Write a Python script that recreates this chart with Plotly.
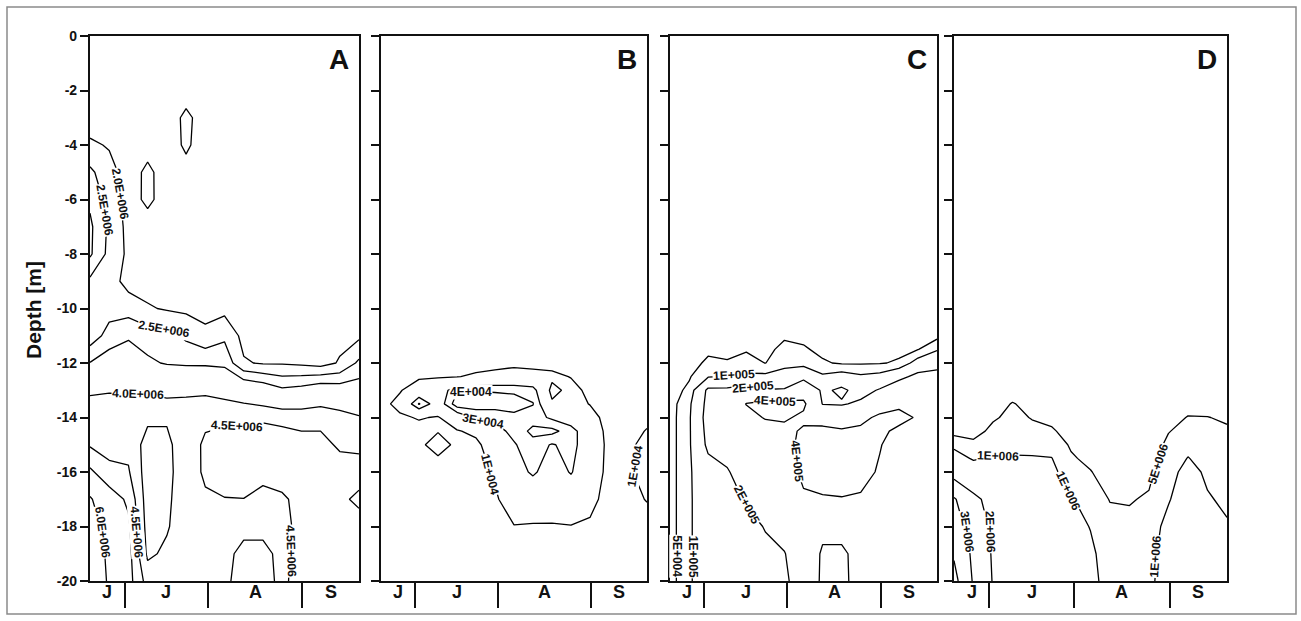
import plotly.graph_objects as go

W, H = 1301, 621

# ---------------- data ----------------
sample_day = [0, 7, 14, 21, 28, 35, 42, 49, 56, 63, 70, 77, 84, 91, 98]
months = ["J", "J", "A", "S"]
month_edges = [0, 12.6, 43.1, 77.4, 98]
depth_ticks = [0, -2, -4, -6, -8, -10, -12, -14, -16, -18, -20]
depth_tick_text = ["0", "-2", "-4", "-6", "-8", "-10", "-12", "-14", "-16", "-18", "-20"]

# Panel A  (x 1E+006)
depth_A = [0, -1, -2, -3, -4, -5, -6, -7, -8, -9, -10, -11, -12, -13, -14, -15, -16, -17, -18, -19, -20]
profiles_A = [
    [1.7, 1.75, 1.8, 1.7, 2.1, 2.6, 2.9, 3.1, 3.08, 2.4, 2.3, 2.2, 3.02, 3.95, 4.2, 4.45, 5.1, 6.1, 6.3, 6.5, 6.6],
    [1.6, 1.65, 1.7, 1.75, 1.95, 2.2, 2.3, 2.4, 2.35, 2.25, 2.3, 2.7, 3.3, 3.97, 4.25, 4.3, 4.65, 5.3, 5.75, 5.85, 5.9],
    [1.5, 1.55, 1.6, 1.65, 1.7, 1.75, 1.8, 1.85, 1.9, 1.8, 2.3, 2.9, 3.5, 3.97, 4.2, 4.35, 4.55, 4.9, 5.1, 5.2, 5.2],
    [1.5, 1.55, 1.6, 1.7, 1.8, 2.12, 2.1, 1.8, 1.75, 1.8, 2.05, 2.75, 3.1, 3.98, 4.1, 3.8, 3.75, 3.75, 3.8, 3.9, 4.3],
    [1.5, 1.55, 1.6, 1.65, 1.7, 1.75, 1.8, 1.8, 1.8, 1.8, 1.95, 2.7, 2.95, 3.98, 4.05, 3.9, 3.85, 3.9, 3.95, 4.1, 4.3],
    [1.5, 1.55, 1.7, 2.15, 2.1, 1.8, 1.75, 1.75, 1.75, 1.8, 1.9, 2.4, 2.9, 3.95, 4.15, 4.25, 4.3, 4.3, 4.3, 4.3, 4.35],
    [1.5, 1.55, 1.6, 1.7, 1.7, 1.7, 1.7, 1.75, 1.75, 1.8, 1.8, 2.15, 2.9, 3.9, 4.4, 4.58, 4.56, 4.45, 4.4, 4.35, 4.35],
    [1.5, 1.55, 1.6, 1.65, 1.7, 1.7, 1.7, 1.7, 1.75, 1.75, 1.85, 2.4, 2.85, 3.8, 4.4, 4.7, 4.75, 4.48, 4.4, 4.4, 4.4],
    [1.5, 1.55, 1.6, 1.6, 1.65, 1.65, 1.7, 1.7, 1.7, 1.75, 1.8, 1.85, 2.05, 3.6, 4.45, 4.7, 4.8, 4.49, 4.4, 4.6, 4.7],
    [1.5, 1.55, 1.6, 1.6, 1.65, 1.65, 1.7, 1.7, 1.7, 1.75, 1.8, 1.85, 1.95, 3.4, 4.45, 4.7, 4.6, 4.4, 4.4, 4.6, 4.65],
    [1.5, 1.55, 1.6, 1.6, 1.6, 1.65, 1.65, 1.7, 1.7, 1.75, 1.8, 1.85, 1.95, 3.1, 4.4, 4.7, 4.65, 4.45, 4.4, 4.4, 4.4],
    [1.5, 1.55, 1.6, 1.6, 1.6, 1.65, 1.65, 1.7, 1.7, 1.75, 1.8, 1.85, 1.9, 3.2, 4.35, 4.65, 4.7, 4.6, 4.6, 4.65, 4.7],
    [1.5, 1.55, 1.6, 1.6, 1.6, 1.6, 1.65, 1.65, 1.7, 1.7, 1.75, 1.8, 1.8, 3.4, 4.4, 4.6, 4.65, 4.6, 4.6, 4.6, 4.65],
    [1.5, 1.55, 1.6, 1.6, 1.6, 1.6, 1.65, 1.65, 1.7, 1.7, 1.75, 1.85, 2.05, 3.3, 4.25, 4.45, 4.65, 4.55, 4.6, 4.6, 4.65],
    [1.5, 1.55, 1.55, 1.6, 1.6, 1.6, 1.65, 1.65, 1.7, 1.7, 1.75, 1.9, 2.6, 3.3, 4.05, 4.45, 4.6, 4.45, 4.6, 4.65, 4.7],
]
levels_A = [2.0, 2.5, 3.0, 4.0, 4.5, 5.0, 6.0]

# Panel B  (x 1E+004)
depth_B = [0, -5, -10, -11, -12, -12.5, -13, -13.5, -14, -14.5, -15, -16, -17, -18, -19, -20]
profiles_B = [
    [0.2, 0.2, 0.2, 0.25, 0.3, 0.4, 0.5, 0.6, 0.5, 0.4, 0.3, 0.3, 0.3, 0.3, 0.3, 0.3],
    [0.2, 0.2, 0.25, 0.3, 0.4, 0.6, 0.9, 1.4, 0.8, 0.5, 0.4, 0.3, 0.3, 0.3, 0.3, 0.3],
    [0.2, 0.2, 0.25, 0.3, 0.5, 0.8, 1.8, 4.1, 1.1, 0.6, 0.8, 0.4, 0.3, 0.3, 0.3, 0.3],
    [0.2, 0.2, 0.25, 0.3, 0.5, 0.9, 2.0, 2.2, 0.9, 0.95, 1.4, 0.4, 0.3, 0.3, 0.3, 0.3],
    [0.2, 0.2, 0.25, 0.3, 0.5, 0.95, 3.9, 4.6, 2.0, 0.9, 0.8, 0.4, 0.3, 0.3, 0.3, 0.3],
    [0.2, 0.2, 0.25, 0.3, 0.5, 1.2, 3.95, 4.6, 3.2, 1.3, 0.7, 0.4, 0.3, 0.3, 0.3, 0.3],
    [0.2, 0.2, 0.25, 0.35, 0.6, 1.4, 3.9, 4.5, 3.3, 2.6, 1.8, 1.2, 0.8, 0.4, 0.3, 0.3],
    [0.2, 0.2, 0.3, 0.4, 0.7, 1.6, 3.8, 4.5, 3.7, 3.3, 2.9, 2.4, 1.8, 0.95, 0.4, 0.3],
    [0.2, 0.2, 0.3, 0.4, 0.6, 1.5, 3.5, 4.05, 3.5, 4.3, 3.6, 3.2, 1.8, 0.9, 0.4, 0.3],
    [0.2, 0.2, 0.3, 0.4, 0.6, 1.3, 0.6, 1.2, 2.8, 4.3, 2.9, 2.3, 1.7, 0.9, 0.4, 0.3],
    [0.2, 0.2, 0.3, 0.35, 0.5, 0.95, 1.4, 1.5, 2.2, 3.5, 3.4, 3.1, 1.9, 0.95, 0.4, 0.3],
    [0.2, 0.2, 0.2, 0.25, 0.3, 0.5, 0.7, 0.95, 1.5, 2.0, 2.2, 1.9, 1.4, 0.8, 0.4, 0.3],
    [0.2, 0.2, 0.2, 0.2, 0.25, 0.3, 0.35, 0.4, 0.5, 0.55, 0.6, 0.6, 0.5, 0.4, 0.3, 0.3],
    [0.2, 0.2, 0.2, 0.2, 0.25, 0.3, 0.35, 0.45, 0.6, 0.7, 0.8, 0.85, 0.7, 0.5, 0.35, 0.3],
    [0.2, 0.2, 0.2, 0.2, 0.25, 0.3, 0.4, 0.6, 0.8, 1.05, 1.3, 1.4, 1.05, 0.6, 0.4, 0.3],
]
levels_B = [1, 3, 4]

# Panel C  (x 1E+005)
depth_C = [0, -5, -10, -11, -11.5, -12, -12.5, -13, -13.5, -14, -14.5, -15, -16, -17, -18, -19, -20]
profiles_C = [
    [0.1, 0.1, 0.15, 0.2, 0.2, 0.25, 0.3, 0.3, 0.3, 0.3, 0.3, 0.3, 0.3, 0.3, 0.3, 0.3, 0.3],
    [0.1, 0.1, 0.15, 0.2, 0.25, 0.3, 0.45, 0.6, 0.85, 0.9, 0.9, 0.9, 0.9, 0.9, 0.9, 0.9, 0.9],
    [0.1, 0.15, 0.2, 0.3, 0.4, 0.6, 0.95, 2.2, 2.3, 2.4, 2.3, 2.2, 1.6, 1.5, 1.5, 1.5, 1.5],
    [0.1, 0.15, 0.2, 0.3, 0.35, 0.55, 1.05, 2.2, 2.6, 2.8, 2.7, 2.5, 1.9, 1.6, 1.5, 1.5, 1.5],
    [0.1, 0.15, 0.25, 0.35, 0.45, 0.7, 1.1, 2.5, 4.05, 3.5, 3.2, 3.0, 2.6, 2.1, 1.7, 1.6, 1.6],
    [0.1, 0.15, 0.25, 0.35, 0.4, 0.49, 1.15, 2.05, 4.5, 4.1, 3.4, 3.1, 2.8, 2.4, 2.05, 1.8, 1.7],
    [0.1, 0.15, 0.3, 0.45, 0.6, 0.8, 1.3, 2.1, 4.6, 4.2, 3.6, 3.4, 3.3, 3.0, 2.5, 1.95, 1.8],
    [0.1, 0.15, 0.3, 0.4, 0.55, 0.8, 1.6, 3.2, 4.3, 3.7, 4.2, 4.5, 4.3, 3.8, 3.0, 2.8, 2.6],
    [0.1, 0.15, 0.2, 0.3, 0.4, 0.55, 1.1, 1.8, 1.95, 3.5, 4.3, 4.6, 4.5, 3.9, 3.6, 4.2, 4.3],
    [0.1, 0.15, 0.2, 0.3, 0.4, 0.45, 1.3, 2.2, 1.9, 3.0, 4.2, 4.4, 4.5, 3.95, 3.6, 4.2, 4.3],
    [0.1, 0.15, 0.2, 0.3, 0.4, 0.45, 1.1, 1.6, 2.2, 3.6, 4.3, 4.4, 4.3, 3.9, 3.6, 3.6, 3.5],
    [0.1, 0.15, 0.2, 0.3, 0.4, 0.47, 1.2, 2.1, 3.2, 4.3, 4.2, 4.05, 3.9, 3.6, 3.4, 3.3, 3.3],
    [0.1, 0.15, 0.2, 0.3, 0.4, 0.55, 1.7, 2.8, 3.8, 4.3, 3.8, 3.6, 3.4, 3.2, 3.1, 3.0, 3.0],
    [0.1, 0.15, 0.25, 0.35, 0.48, 1.3, 2.3, 3.0, 3.5, 3.9, 3.7, 3.5, 3.3, 3.1, 3.0, 3.0, 3.0],
    [0.1, 0.15, 0.3, 0.35, 0.95, 1.5, 2.5, 3.0, 3.3, 3.5, 3.4, 3.3, 3.1, 3.0, 2.9, 2.9, 2.9],
]
levels_C = [0.5, 1, 2, 4]

# Panel D  (x 1E+006)
depth_D = [0, -5, -10, -12, -13, -13.5, -14, -14.5, -15, -15.5, -16, -17, -18, -19, -20]
profiles_D = [
    [0.1, 0.1, 0.15, 0.2, 0.25, 0.25, 0.3, 0.3, 0.9, 1.2, 1.6, 3.1, 3.4, 3.9, 4.3],
    [0.1, 0.1, 0.15, 0.2, 0.25, 0.28, 0.3, 0.35, 0.6, 0.95, 1.3, 2.2, 2.6, 2.8, 2.9],
    [0.1, 0.1, 0.15, 0.2, 0.3, 0.35, 0.45, 0.6, 0.8, 1.05, 1.3, 1.7, 1.8, 1.9, 1.95],
    [0.1, 0.1, 0.15, 0.2, 0.35, 0.52, 0.6, 0.7, 0.85, 1.05, 1.2, 1.5, 1.6, 1.7, 1.75],
    [0.1, 0.1, 0.15, 0.2, 0.3, 0.4, 0.48, 0.6, 0.8, 1.05, 1.2, 1.4, 1.5, 1.55, 1.6],
    [0.1, 0.1, 0.15, 0.2, 0.25, 0.3, 0.4, 0.55, 0.75, 1.02, 1.15, 1.3, 1.35, 1.4, 1.45],
    [0.1, 0.1, 0.15, 0.2, 0.2, 0.25, 0.3, 0.35, 0.45, 0.55, 0.7, 1.05, 1.2, 1.25, 1.3],
    [0.1, 0.1, 0.1, 0.15, 0.15, 0.2, 0.2, 0.25, 0.3, 0.4, 0.52, 0.75, 0.98, 1.1, 1.15],
    [0.1, 0.1, 0.1, 0.1, 0.15, 0.15, 0.15, 0.2, 0.2, 0.25, 0.3, 0.48, 0.65, 0.75, 0.8],
    [0.1, 0.1, 0.1, 0.1, 0.15, 0.15, 0.15, 0.2, 0.2, 0.25, 0.3, 0.47, 0.6, 0.7, 0.75],
    [0.1, 0.1, 0.1, 0.1, 0.15, 0.15, 0.2, 0.2, 0.25, 0.3, 0.4, 0.55, 0.7, 0.8, 0.85],
    [0.1, 0.1, 0.15, 0.15, 0.2, 0.25, 0.35, 0.48, 0.6, 0.7, 0.8, 0.95, 1.2, 1.3, 1.35],
    [0.1, 0.1, 0.15, 0.15, 0.25, 0.35, 0.52, 0.65, 0.85, 1.02, 1.2, 1.4, 1.5, 1.5, 1.5],
    [0.1, 0.1, 0.15, 0.2, 0.25, 0.35, 0.51, 0.6, 0.7, 0.8, 0.9, 1.05, 1.2, 1.3, 1.35],
    [0.1, 0.1, 0.15, 0.2, 0.2, 0.3, 0.45, 0.55, 0.65, 0.75, 0.8, 0.9, 1.05, 1.15, 1.2],
]
levels_D = [0.5, 1, 2, 3, 4]

# contour label texts (as printed on the figure) with their placement
labels_A = [("2.0E+006", 11.0, -5.8, 80), ("2.5E+006", 5.2, -6.4, 80),
            ("2.5E+006", 27.0, -10.75, 10), ("4.0E+006", 17.5, -13.15, 2),
            ("4.5E+006", 53.5, -14.3, 3), ("4.5E+006", 17.0, -18.2, 85),
            ("6.0E+006", 4.6, -18.2, 82), ("4.5E+006", 73.2, -18.9, 88)]
labels_B = [("4E+004", 33.0, -13.05, 0), ("3E+004", 37.5, -14.13, 10),
            ("1E+004", 40.3, -16.1, 76), ("1E+004", 93.4, -15.8, -80)]
labels_C = [("1E+005", 23.5, -12.45, -3), ("2E+005", 30.5, -12.88, -5),
            ("4E+005", 38.5, -13.4, 3), ("4E+005", 46.6, -15.6, 84),
            ("2E+005", 28.3, -17.2, 62), ("5E+004", 2.3, -19.1, 90),
            ("1E+005", 8.3, -19.1, 90)]
labels_D = [("1E+006", 15.8, -15.42, 2), ("1E+006", 41.0, -16.7, 65),
            ("5E+006", 73.2, -15.7, -72), ("1E+006", 72.5, -19.1, -86),
            ("3E+006", 4.7, -18.2, 82), ("2E+006", 13.0, -18.2, 88)]

panels = [
    ("A", depth_A, profiles_A, levels_A, labels_A, (90, 359)),
    ("B", depth_B, profiles_B, levels_B, labels_B, (381, 647)),
    ("C", depth_C, profiles_C, levels_C, labels_C, (670, 937)),
    ("D", depth_D, profiles_D, levels_D, labels_D, (954, 1227)),
]

Y_TOP, Y_BOT = 36, 581
FONT = "Liberation Sans, Arial, Helvetica, sans-serif"

fig = go.Figure()
annotations = []
layout_axes = {}

for i, (letter, depth, profiles, levels, labels, (pl, pr)) in enumerate(panels):
    n = "" if i == 0 else str(i + 1)
    xa, ya = "x" + n, "y" + n
    z = [list(row) for row in zip(*profiles)]
    for lv in levels:
        fig.add_trace(go.Contour(
            x=sample_day, y=depth, z=z, xaxis=xa, yaxis=ya,
            autocontour=False,
            contours=dict(start=lv, end=lv, size=1, coloring="none", showlabels=False),
            line=dict(color="#000000", width=1.3, smoothing=0),
            showscale=False, hoverinfo="skip",
        ))
    layout_axes["xaxis" + n] = dict(
        domain=[pl / W, pr / W], range=[0, 98], anchor=ya, automargin=False,
        showline=True, linecolor="#111111", linewidth=2.2, mirror=True,
        showgrid=False, zeroline=False,
        tickmode="array", tickvals=month_edges[1:-1], ticks="outside",
        ticklen=25, tickwidth=2, tickcolor="#111111", showticklabels=False,
    )
    layout_axes["yaxis" + n] = dict(
        domain=[1 - Y_BOT / H, 1 - Y_TOP / H], range=[-20, 0], anchor=xa, automargin=False,
        showline=True, linecolor="#111111", linewidth=2.2, mirror=True,
        showgrid=False, zeroline=False,
        tickmode="array", tickvals=depth_ticks, ticktext=depth_tick_text,
        ticks="outside", ticklen=8, tickwidth=2, tickcolor="#111111",
        showticklabels=(i == 0),
        tickfont=dict(family=FONT, size=14, color="#111111", weight="bold"),
    )
    # contour labels
    for txt, lx, ly, ang in labels:
        annotations.append(dict(
            x=lx, y=ly, xref=xa, yref=ya, text="<b>" + txt + "</b>", showarrow=False,
            textangle=ang, xanchor="center", yanchor="middle",
            bgcolor="white", borderpad=0,
            font=dict(family=FONT, size=12, color="#111111"),
        ))
    # month labels
    for m in range(len(months)):
        annotations.append(dict(
            x=(month_edges[m] + month_edges[m + 1]) / 2, y=1 - 592 / H,
            xref=xa, yref="paper", text="<b>" + months[m] + "</b>",
            showarrow=False, xanchor="center", yanchor="middle",
            font=dict(family=FONT, size=18, color="#111111"),
        ))
    # panel letter
    annotations.append(dict(
        x=(pr - 8) / W, y=1 - 60 / H, xref="paper", yref="paper",
        text="<b>" + letter + "</b>", showarrow=False,
        xanchor="right", yanchor="middle",
        font=dict(family=FONT, size=28, color="#111111"),
    ))

annotations.append(dict(
    x=33 / W, y=1 - 310 / H, xref="paper", yref="paper",
    text="<b>Depth [m]</b>", showarrow=False, textangle=-90,
    xanchor="center", yanchor="middle",
    font=dict(family=FONT, size=21, color="#111111"),
))

fig.update_layout(
    width=W, height=H, autosize=False,
    margin=dict(l=0, r=0, t=0, b=0, pad=0, autoexpand=False),
    paper_bgcolor="white", plot_bgcolor="white",
    showlegend=False, annotations=annotations,
    shapes=[dict(type="rect", xref="paper", yref="paper",
                 x0=7 / W, x1=1296 / W, y0=1 - 614 / H, y1=1 - 7 / H,
                 line=dict(color="#8a8a8a", width=1.5))],
    **layout_axes,
)

fig.write_html("out.html", config={"displayModeBar": False},
               post_script="document.body.style.margin='0';document.body.style.overflow='hidden';")
